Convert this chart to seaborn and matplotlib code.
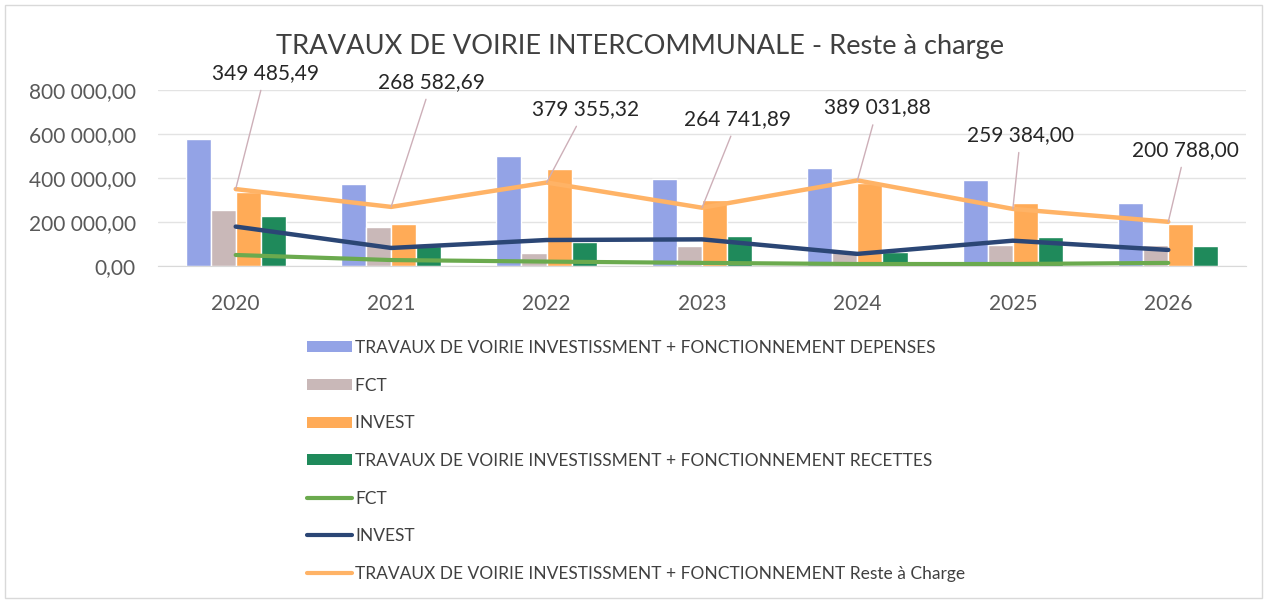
import pandas as pd
import matplotlib.pyplot as plt
import seaborn as sns
from matplotlib.patches import Patch, Rectangle
from matplotlib.lines import Line2D

years = ["2020", "2021", "2022", "2023", "2024", "2025", "2026"]

# bars
depenses_total = [578000, 371000, 502000, 397000, 446000, 391000, 287000]
depenses_fct = [255000, 179000, 60000, 91000, 67000, 95000, 96000]
depenses_invest = [338000, 192000, 440000, 300000, 378000, 288000, 191000]
recettes_total = [229000, 92000, 110000, 136000, 65000, 133000, 90000]

# lines
recettes_fct = [50000, 27000, 20000, 14000, 9000, 9000, 14000]
recettes_invest = [179000, 82000, 118000, 121000, 55000, 115000, 73000]
reste_a_charge = [349485.49, 268582.69, 379355.32, 264741.89, 389031.88, 259384.00, 200788.00]

reste_labels = ["349 485,49", "268 582,69", "379 355,32", "264 741,89",
                "389 031,88", "259 384,00", "200 788,00"]

bar_names = [
    "TRAVAUX DE VOIRIE INVESTISSMENT + FONCTIONNEMENT DEPENSES",
    "FCT ",
    "INVEST ",
    "TRAVAUX DE VOIRIE INVESTISSMENT + FONCTIONNEMENT RECETTES",
]
line_names = [
    "FCT",
    "INVEST",
    "TRAVAUX DE VOIRIE INVESTISSMENT + FONCTIONNEMENT Reste à Charge",
]

bar_colors = ["#93A3E6", "#C9B8B8", "#FFAB57", "#1F8A5B"]
line_colors = ["#6BAA4E", "#2B4675", "#FFB366"]

# label placement (offset from the category, height in data units)
label_dx = [0.19, 0.26, 0.25, 0.23, 0.13, 0.05, 0.11]
label_y = [877000, 836000, 712000, 668000, 720000, 595000, 527000]


def fmt(v, pos=None):
    s = f"{v:,.2f}"
    return s.replace(",", " ").replace(".", ",")


sns.set_style("white")
plt.rcParams["font.family"] = ["Lato", "DejaVu Sans"]

df_bar = pd.DataFrame({
    "year": years * 4,
    "serie": [n for n in bar_names for _ in years],
    "value": depenses_total + depenses_fct + depenses_invest + recettes_total,
})

fig = plt.figure(figsize=(12.7, 6.03), dpi=100)
ax = fig.add_axes([0.1244, 0.5589, 0.8567, 0.2919])

sns.barplot(data=df_bar, x="year", y="value", hue="serie", hue_order=bar_names,
            palette=bar_colors, width=0.645, gap=0, errorbar=None, ax=ax,
            saturation=1, legend=False, zorder=2)

for vals, col, lw in zip([recettes_fct, recettes_invest, reste_a_charge],
                         line_colors, [3.0, 3.2, 3.2]):
    sns.pointplot(x=years, y=vals, color=col, markers="", linestyles="-",
                  errorbar=None, ax=ax, lw=lw, zorder=3)

ax.set_xlim(-0.5, 6.5)
ax.set_ylim(0, 800000)
ax.set_yticks([0, 200000, 400000, 600000, 800000])
ax.yaxis.set_major_formatter(plt.FuncFormatter(fmt))
ax.grid(axis="y", color="#E3E3E3", lw=1, zorder=0)
ax.set_axisbelow(True)
for s in ["top", "right", "left"]:
    ax.spines[s].set_visible(False)
ax.spines["bottom"].set_color("#D9D9D9")
ax.tick_params(axis="both", length=0, labelsize=15, colors="#595959")
ax.tick_params(axis="x", pad=20)
ax.tick_params(axis="y", pad=16)
ax.set_xlabel("")
ax.set_ylabel("")

for i, lab in enumerate(reste_labels):
    ax.annotate(lab, xy=(i, reste_a_charge[i]), xytext=(i + label_dx[i], label_y[i]),
                ha="center", va="center", fontsize=15, color="#262626",
                annotation_clip=False,
                arrowprops=dict(arrowstyle="-", color="#CDAFB8", lw=1,
                                shrinkA=3, shrinkB=0))

fig.text(0.504, 0.923, "TRAVAUX DE VOIRIE INTERCOMMUNALE - Reste à charge",
         ha="center", va="center", fontsize=19.6, color="#404040")

handles = [Patch(facecolor=c, edgecolor="none") for c in bar_colors]
handles += [Line2D([0], [0], color=c, lw=3) for c in line_colors]
fig.legend(handles, bar_names + line_names, loc="upper left",
           bbox_to_anchor=(0.236, 0.448), frameon=False, fontsize=12.5,
           handlelength=2.6, handleheight=0.6, handletextpad=0.2,
           labelspacing=1.25, borderaxespad=0, labelcolor="#404040")

fig.patches.append(Rectangle((0.004, 0.008), 0.99, 0.984, transform=fig.transFigure,
                             fill=False, edgecolor="#D9D9D9", lw=1))

fig.savefig("out.png", dpi=100)
